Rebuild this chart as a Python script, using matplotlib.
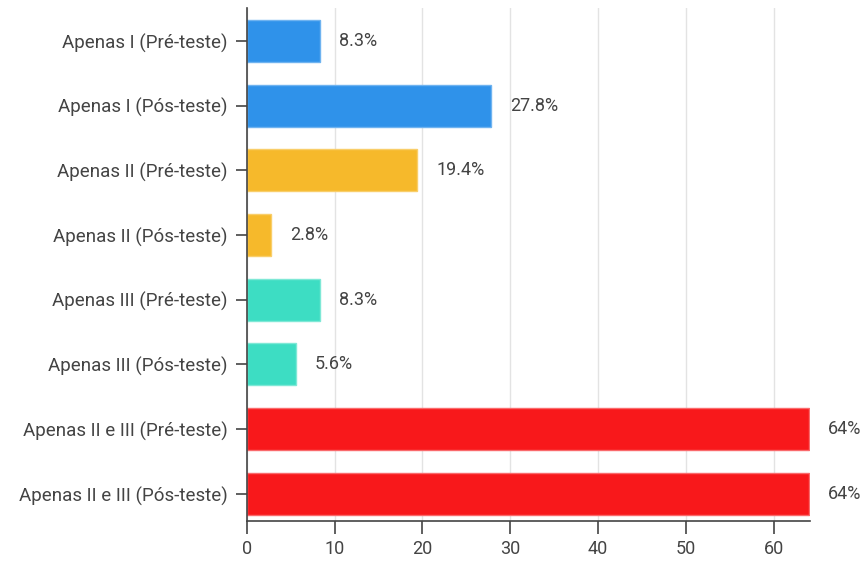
import matplotlib.pyplot as plt

plt.rcParams['font.family'] = ['Roboto', 'DejaVu Sans']

categories = ["Apenas I (Pré-teste)", "Apenas I (Pós-teste)",
              "Apenas II (Pré-teste)", "Apenas II (Pós-teste)",
              "Apenas III (Pré-teste)", "Apenas III (Pós-teste)",
              "Apenas II e III (Pré-teste)", "Apenas II e III (Pós-teste)"]
values = [8.3, 27.8, 19.4, 2.8, 8.3, 5.6, 64, 64]
labels = ["8.3%", "27.8%", "19.4%", "2.8%", "8.3%", "5.6%", "64%", "64%"]
colors = ["#2F92EA", "#2F92EA", "#F6B92B", "#F6B92B",
          "#3DDDC3", "#3DDDC3", "#F8181B", "#F8181B"]
edges = ["#6FB3F0", "#6FB3F0", "#F9CE6A", "#F9CE6A",
         "#7FE8D6", "#7FE8D6", "#FA6A6C", "#FA6A6C"]

fig = plt.figure(figsize=(8.66, 5.62), dpi=100)
ax = fig.add_axes([0.285, 0.073, 0.65, 0.913])

pos = range(len(categories))
ax.barh(pos, values, height=0.65, color=colors, edgecolor=edges, linewidth=1, zorder=3)

for p, v, t in zip(pos, values, labels):
    ax.annotate(t, (v, p), xytext=(19, 0), textcoords="offset pixels",
                va="center", ha="left", fontsize=13, color="#444444", annotation_clip=False)

ax.set_yticks(list(pos))
ax.set_yticklabels(categories, fontsize=13.5, color="#444444")
ax.set_xticks(range(0, 61, 10))
ax.tick_params(axis="x", labelsize=13, labelcolor="#444444", length=9, width=1.2,
               color="#444444", pad=5)
ax.tick_params(axis="y", length=8, width=1.2, color="#444444", pad=6)
ax.set_xlim(0, 64.1)
ax.set_ylim(7.42, -0.51)

ax.grid(axis="x", color="#e3e3e3", linewidth=1, zorder=0)
for s in ["top", "right"]:
    ax.spines[s].set_visible(False)
for s in ["left", "bottom"]:
    ax.spines[s].set_color("#444444")
    ax.spines[s].set_linewidth(1.2)
    ax.spines[s].set_zorder(4)

fig.savefig("out.png", dpi=100)
